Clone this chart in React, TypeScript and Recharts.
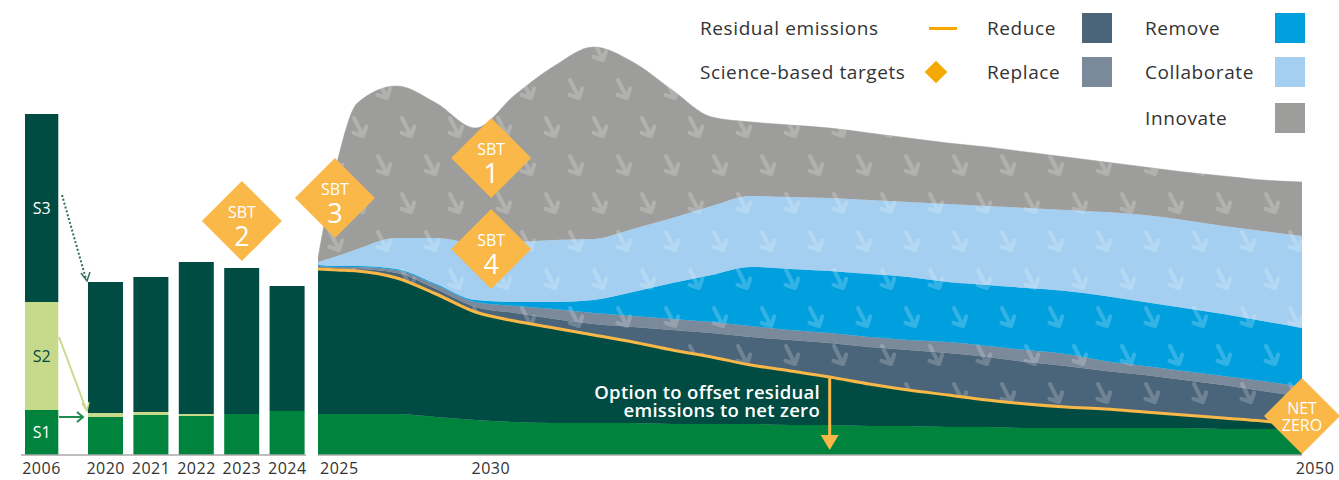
import React from 'react';
import {
  BarChart,
  Bar,
  XAxis,
  YAxis,
  LabelList,
  ReferenceDot,
  ReferenceLine,
  ComposedChart,
  Area,
  Line,
} from 'recharts';

const FONT = "'Open Sans', sans-serif";

// 2006 baseline, by scope
const baseYear = ['2006'];
const baseS1 = [11.25];
const baseS2 = [27];
const baseS3 = [47];

// reported years
const barYears = ['2020', '2021', '2022', '2023', '2024'];
const barS1 = [9.5, 10, 9.75, 10.25, 11];
const barS2 = [1, 0.75, 0.5, 0, 0];
const barS3 = [32.75, 33.75, 38, 36.5, 31.25];

// pathway to 2050 (stacked layers)
const years = [2025, 2025.5, 2026, 2027, 2028, 2029, 2030, 2031, 2032, 2033, 2034, 2035, 2036, 2037, 2038, 2039, 2040, 2041, 2042, 2043, 2044, 2045, 2046, 2047, 2048, 2049, 2050];
const scope1 = [10.25, 10.25, 10.25, 10.25, 9.5, 8.75, 8.25, 8, 8, 8, 7.75, 7.75, 7.75, 7.5, 7.5, 7.25, 7.25, 7, 7, 6.75, 6.75, 6.75, 6.75, 6.75, 6.5, 6.5, 6.5];
const scope23 = [36.25, 36, 35.75, 34, 30.75, 27, 25.25, 23.75, 22, 20.25, 18.5, 16.75, 14.75, 13.5, 12, 10.5, 9, 8, 6.75, 6, 5.25, 4.75, 4, 3.25, 2.75, 2, 1];
const reduce = [0.5, 0.5, 0.5, 1.25, 1.25, 1.25, 2, 2.25, 2.75, 3.75, 5, 6, 7, 7.75, 8.5, 9.25, 10, 10.5, 10.75, 10.5, 10.25, 9.5, 9.25, 8.75, 8.25, 7.5, 7];
const replace = [0.25, 0.25, 0.5, 0.75, 1, 1.25, 1.75, 2.5, 2.75, 2.75, 2.75, 2.75, 2.75, 2.5, 2.5, 2.5, 2.5, 2.75, 2.75, 3, 3, 2.5, 2.25, 2.25, 2.25, 2.5, 2.5];
const remove = [0.25, 0.25, 0.25, 0.25, 0.25, 0.5, 1, 1.75, 3.25, 6, 9, 11.75, 14.75, 15.25, 15.5, 15.75, 15.75, 15, 15.25, 15.5, 15.75, 16.25, 16, 15.75, 15.5, 15, 14.75];
const collaborate = [0.75, 2.5, 4.25, 7.75, 11.5, 14.25, 15, 15.5, 15.25, 15.75, 16.25, 17.25, 17.75, 18, 18.25, 18.5, 18.75, 19.5, 19.75, 20, 20.25, 21, 21.75, 22, 22, 22.5, 23];
const innovate = [1, 24, 36.5, 38, 33.75, 28.75, 36.75, 43.5, 48, 41.75, 32, 22.25, 18.5, 18, 17.5, 16.75, 16, 15.25, 14.75, 14, 13.25, 12.5, 12, 12, 12.5, 12.75, 13.5];

const yearTicks = [2025, 2030, 2050];

// science-based target markers
const sbtBar = { x: '2023', y: 58.5, label: '2' };
const sbtArea = [
  { x: 2025.43, y: 64.25, label: '3' },
  { x: 2029.4, y: 74.25, label: '1' },
  { x: 2029.4, y: 51.5, label: '4' },
];
const netZero = { x: 2050, y: 9.75 };
const offsetYear = 2038;

const C = {
  s1: '#00843D',
  s2: '#C7D98A',
  s3: '#004C42',
  reduce: '#4A6479',
  replace: '#7B8A9B',
  remove: '#00A0DF',
  collaborate: '#A4CFF0',
  innovate: '#9D9D9C',
  orange: '#F9B847',
  legendOrange: '#F5A800',
  text: '#333333',
};

const baseData = baseYear.map((year, i) => ({ year, s1: baseS1[i], s2: baseS2[i], s3: baseS3[i] }));
const barData = barYears.map((year, i) => ({ year, s1: barS1[i], s2: barS2[i], s3: barS3[i] }));
const areaData = years.map((year, i) => ({
  year,
  scope1: scope1[i],
  scope23: scope23[i],
  reduce: reduce[i],
  replace: replace[i],
  remove: remove[i],
  collaborate: collaborate[i],
  innovate: innovate[i],
  residual: scope1[i] + scope23[i],
}));
const offsetIdx = years.indexOf(offsetYear);

const ArrowPattern = ({ id, color }: { id: string; color: string }) => (
  <pattern id={id} patternUnits="userSpaceOnUse" width={48} height={76}>
    <rect width={48} height={76} fill={color} />
    <path
      d="M4 4 L13 22 M16.2 12.5 L13 22 L3.5 18.8 M28 42 L37 60 M40.2 50.5 L37 60 L27.5 56.8"
      fill="none"
      stroke="#fff"
      strokeOpacity={0.2}
      strokeWidth={4}
      strokeLinecap="round"
      strokeLinejoin="round"
    />
  </pattern>
);

const Diamond = ({ cx, cy, top, bottom, half = 40, small = false }: any) => (
  <g>
    <polygon points={`${cx},${cy - half} ${cx + half},${cy} ${cx},${cy + half} ${cx - half},${cy}`} fill={C.orange} />
    <text x={cx} y={small ? cy - 8 : cy - 9} textAnchor="middle" dominantBaseline="central" fill="#fff" fontSize={16} fontFamily={FONT}>
      {top}
    </text>
    <text x={cx} y={small ? cy + 9 : cy + 14} textAnchor="middle" dominantBaseline="central" fill="#fff" fontSize={small ? 16 : 27} fontFamily={FONT}>
      {bottom}
    </text>
  </g>
);

const TICK_SHIFT: Record<number, [number, string]> = {
  2025: [2, 'start'],
  2030: [-24, 'middle'],
  2050: [13, 'middle'],
};

const YearTick = ({ x, y, payload }: any) => {
  const [dx, anchor] = TICK_SHIFT[payload.value] || [0, 'middle'];
  return (
    <text x={x + dx} y={y} dy="0.71em" textAnchor={anchor as any} fill={C.text} fontSize={16} letterSpacing={0.5} fontFamily={FONT}>
      {payload.value}
    </text>
  );
};

const tickStyle = { fontSize: 16, fill: C.text, fontFamily: FONT, letterSpacing: 0.5 };

const LegendText = ({ left, top, children }: any) => (
  <div
    style={{
      position: 'absolute',
      left,
      top,
      transform: 'translateY(-50%)',
      fontSize: 19,
      letterSpacing: 0.6,
      color: C.text,
      whiteSpace: 'nowrap',
    }}
  >
    {children}
  </div>
);
const Swatch = ({ left, top, color }: any) => (
  <div style={{ position: 'absolute', left, top, width: 30, height: 30, background: color }} />
);

export default function App() {
  return (
    <div style={{ position: 'absolute', left: 0, top: 0, width: 1339, height: 480, background: '#fff', fontFamily: FONT, overflow: 'hidden' }}>
      {/* 2006 baseline bar */}
      <div style={{ position: 'absolute', left: 0, top: 0 }}>
        <BarChart width={80} height={480} data={baseData} margin={{ top: 35, right: 20, bottom: 0, left: 23 }} barCategoryGap={0}>
          <XAxis dataKey="year" height={25} tickLine={false} axisLine={false} tick={tickStyle} />
          <YAxis hide domain={[0, 105]} />
          <Bar dataKey="s1" stackId="a" fill={C.s1} barSize={37} isAnimationActive={false}>
            <LabelList dataKey="s1" position="center" formatter={() => 'S1'} fill="#fff" fontSize={16} fontFamily={FONT} />
          </Bar>
          <Bar dataKey="s2" stackId="a" fill={C.s2} barSize={37} isAnimationActive={false}>
            <LabelList dataKey="s2" position="center" formatter={() => 'S2'} fill={C.s3} fontSize={16} fontFamily={FONT} />
          </Bar>
          <Bar dataKey="s3" stackId="a" fill={C.s3} barSize={37} isAnimationActive={false}>
            <LabelList dataKey="s3" position="center" formatter={() => 'S3'} fill="#fff" fontSize={16} fontFamily={FONT} />
          </Bar>
        </BarChart>
      </div>

      {/* 2020-2024 bars */}
      <div style={{ position: 'absolute', left: 60, top: 0 }}>
        <BarChart width={270} height={480} data={barData} margin={{ top: 35, right: 20, bottom: 0, left: 23 }}>
          <XAxis dataKey="year" height={25} tickLine={false} axisLine={false} tick={tickStyle} interval={0} />
          <YAxis hide domain={[0, 105]} />
          <Bar dataKey="s1" stackId="a" fill={C.s1} barSize={35} isAnimationActive={false} />
          <Bar dataKey="s2" stackId="a" fill={C.s2} barSize={35} isAnimationActive={false} />
          <Bar dataKey="s3" stackId="a" fill={C.s3} barSize={35} isAnimationActive={false} />
          <ReferenceDot
            x={sbtBar.x}
            y={sbtBar.y}
            ifOverflow="visible"
            shape={(p: any) => <Diamond cx={p.cx} cy={p.cy} top="SBT" bottom={sbtBar.label} />}
          />
        </BarChart>
      </div>

      {/* connectors and baseline for bars */}
      <svg style={{ position: 'absolute', left: 0, top: 0, pointerEvents: 'none' }} width={330} height={480}>
        <line x1={21} y1={455} x2={306} y2={455} stroke="#a8a8a8" strokeWidth={1.5} />
        <path d="M62 195 L86 279" stroke="#2F6F60" strokeWidth={2} strokeDasharray="2 2" fill="none" />
        <path d="M81 273 L87 281 L90 272" stroke="#2F6F60" strokeWidth={1.5} fill="none" />
        <path d="M59 337 L86 409" stroke={C.s2} strokeWidth={2} fill="none" />
        <path d="M82 403 L87 411 L89 402" stroke={C.s2} strokeWidth={1.5} fill="none" />
        <path d="M59 417 L83 417 M77 412 L83 417 L77 422" stroke="#1E8B50" strokeWidth={2} fill="none" />
      </svg>

      {/* pathway to net zero */}
      <div style={{ position: 'absolute', left: 278, top: 0 }}>
        <ComposedChart width={1061} height={480} data={areaData} margin={{ top: 35, right: 37, bottom: 0, left: 40 }}>
          <defs>
            <ArrowPattern id="pReduce" color={C.reduce} />
            <ArrowPattern id="pReplace" color={C.replace} />
            <ArrowPattern id="pRemove" color={C.remove} />
            <ArrowPattern id="pCollab" color={C.collaborate} />
            <ArrowPattern id="pInnov" color={C.innovate} />
          </defs>
          <XAxis
            dataKey="year"
            type="number"
            domain={[2025, 2050]}
            ticks={yearTicks}
            interval={0}
            height={25}
            tickLine={false}
            axisLine={{ stroke: '#a8a8a8', strokeWidth: 1.5 }}
            tick={<YearTick />}
          />
          <YAxis hide domain={[0, 105]} />
          <Area type="monotone" dataKey="scope1" stackId="p" fill={C.s1} fillOpacity={1} stroke={C.s1} strokeWidth={0.5} isAnimationActive={false} />
          <Area type="monotone" dataKey="scope23" stackId="p" fill={C.s3} fillOpacity={1} stroke={C.s3} strokeWidth={0.5} isAnimationActive={false} />
          <Area type="monotone" dataKey="reduce" stackId="p" fill="url(#pReduce)" fillOpacity={1} stroke={C.reduce} strokeWidth={0.5} isAnimationActive={false} />
          <Area type="monotone" dataKey="replace" stackId="p" fill="url(#pReplace)" fillOpacity={1} stroke={C.replace} strokeWidth={0.5} isAnimationActive={false} />
          <Area type="monotone" dataKey="remove" stackId="p" fill="url(#pRemove)" fillOpacity={1} stroke={C.remove} strokeWidth={0.5} isAnimationActive={false} />
          <Area type="monotone" dataKey="collaborate" stackId="p" fill="url(#pCollab)" fillOpacity={1} stroke={C.collaborate} strokeWidth={0.5} isAnimationActive={false} />
          <Area type="monotone" dataKey="innovate" stackId="p" fill="url(#pInnov)" fillOpacity={1} stroke={C.innovate} strokeWidth={0.5} isAnimationActive={false} />
          <Line type="monotone" dataKey="residual" stroke={C.orange} strokeWidth={3} dot={false} activeDot={false} isAnimationActive={false} />
          <ReferenceLine
            segment={[
              { x: offsetYear, y: areaData[offsetIdx].residual },
              { x: offsetYear, y: 3 },
            ]}
            stroke={C.orange}
            strokeWidth={3}
            ifOverflow="visible"
          />
          <ReferenceDot
            x={offsetYear}
            y={1.25}
            ifOverflow="visible"
            shape={(p: any) => (
              <polygon points={`${p.cx - 9},${p.cy - 15} ${p.cx + 9},${p.cy - 15} ${p.cx},${p.cy}`} fill={C.orange} />
            )}
          />
          {sbtArea.map((s) => (
            <ReferenceDot
              key={s.label}
              x={s.x}
              y={s.y}
              ifOverflow="visible"
              shape={(p: any) => <Diamond cx={p.cx} cy={p.cy} top="SBT" bottom={s.label} />}
            />
          ))}
          <ReferenceDot
            x={netZero.x}
            y={netZero.y}
            ifOverflow="visible"
            shape={(p: any) => <Diamond cx={p.cx} cy={p.cy} top="NET" bottom="ZERO" half={38} small />}
          />
        </ComposedChart>
      </div>

      <div
        style={{
          position: 'absolute',
          right: 1339 - 820,
          top: 383,
          textAlign: 'right',
          color: '#fff',
          fontWeight: 600,
          fontSize: 18.5,
          letterSpacing: 0.3,
          lineHeight: '18px',
          whiteSpace: 'nowrap',
        }}
      >
        Option to offset residual
        <br />
        emissions to net zero
      </div>

      {/* legend */}
      <LegendText left={700} top={28}>Residual emissions</LegendText>
      <div style={{ position: 'absolute', left: 929, top: 26.5, width: 28, height: 3, background: C.legendOrange }} />
      <LegendText left={987} top={28}>Reduce</LegendText>
      <Swatch left={1082} top={13} color={C.reduce} />
      <LegendText left={1145} top={28}>Remove</LegendText>
      <Swatch left={1275} top={13} color={C.remove} />

      <LegendText left={700} top={72}>Science-based targets</LegendText>
      <div style={{ position: 'absolute', left: 928, top: 64, width: 16, height: 16, background: C.legendOrange, transform: 'rotate(45deg)' }} />
      <LegendText left={987} top={72}>Replace</LegendText>
      <Swatch left={1082} top={57} color={C.replace} />
      <LegendText left={1145} top={72}>Collaborate</LegendText>
      <Swatch left={1275} top={57} color={C.collaborate} />

      <LegendText left={1145} top={118}>Innovate</LegendText>
      <Swatch left={1275} top={103} color={C.innovate} />
    </div>
  );
}
